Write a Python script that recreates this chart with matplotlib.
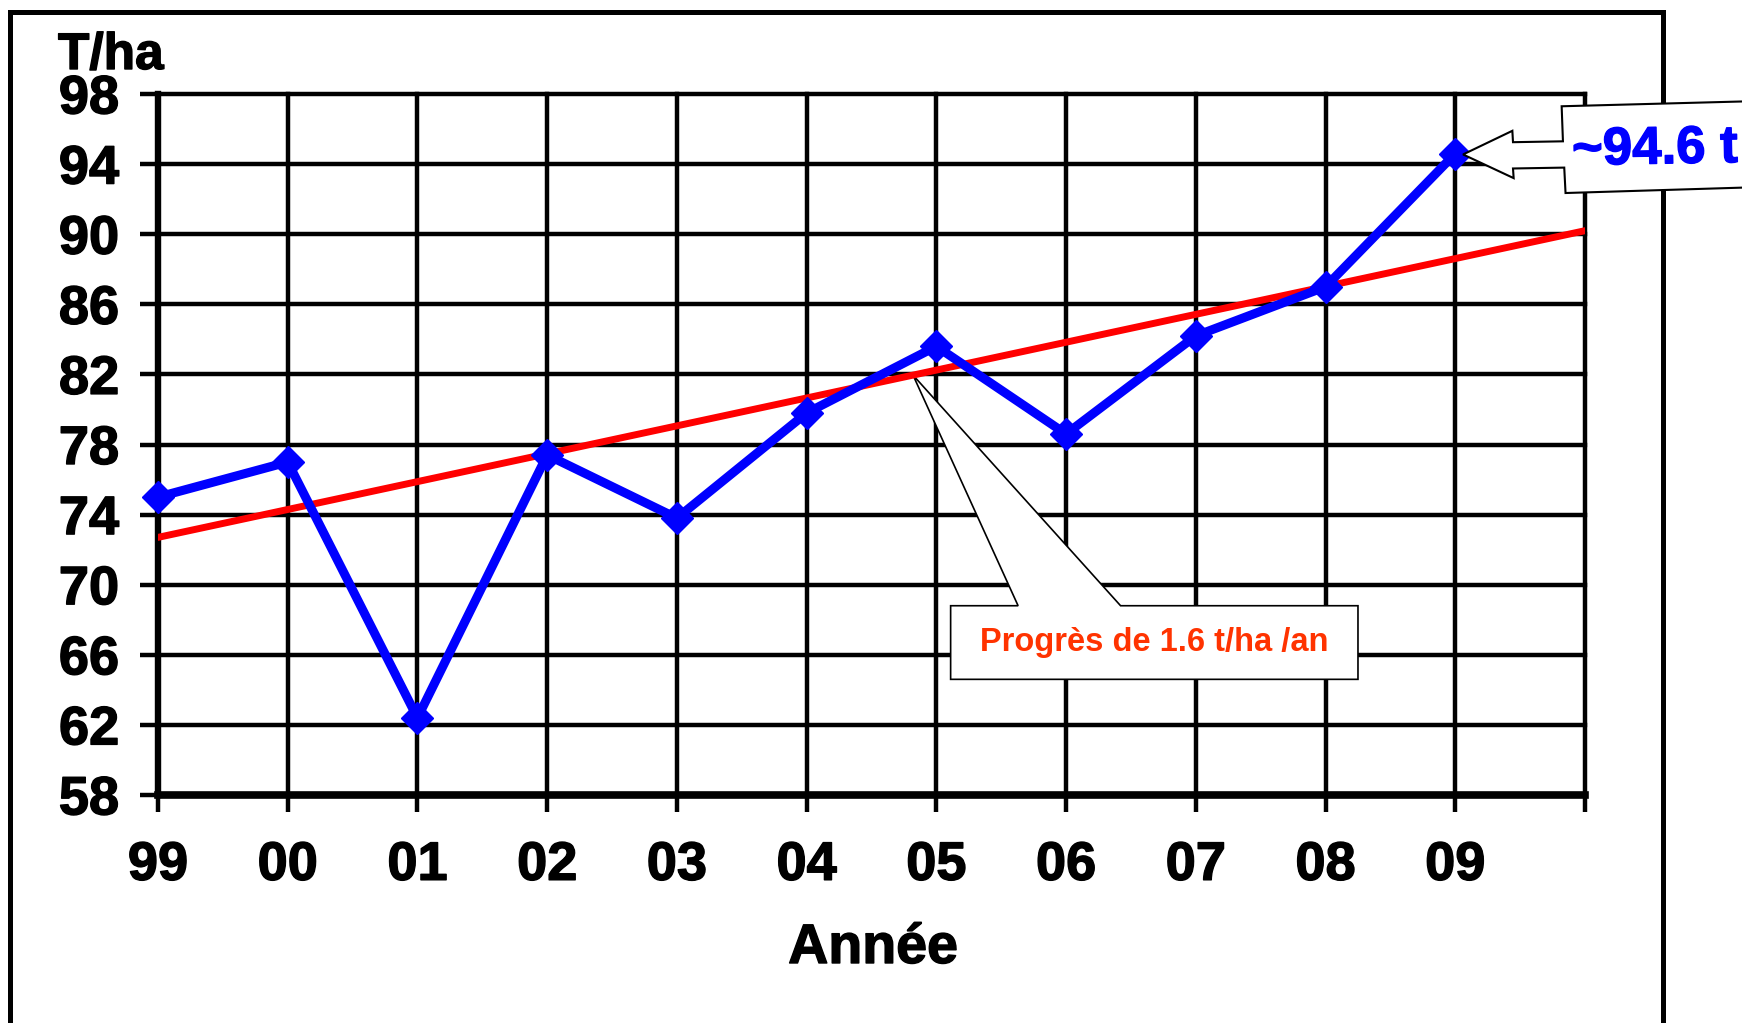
import matplotlib
matplotlib.use("Agg")
import matplotlib.pyplot as plt
import matplotlib.patheffects as pe
import numpy as np
from matplotlib.patches import Polygon, Rectangle

# data
years = ["99", "00", "01", "02", "03", "04", "05", "06", "07", "08", "09"]
yields = [75.0, 77.0, 62.4, 77.4, 73.8, 79.8, 83.6, 78.6, 84.2, 87.0, 94.6]
trend_x = [0, 11]
trend_y = [72.7, 90.2]
y_ticks = list(range(58, 99, 4))

plt.rcParams['font.family'] = ['Liberation Sans', 'DejaVu Sans']
plt.rcParams['font.weight'] = 'bold'

W, H = 1742, 1023
fig = plt.figure(figsize=(W / 100, H / 100), dpi=100)
ax = fig.add_axes([158 / W, 1 - 795 / H, (1585 - 158) / W, (795 - 94) / H])

x = np.arange(len(years))
ax.set_xlim(0, 11)
ax.set_ylim(58, 98)
ax.set_xticks(np.arange(12))
ax.set_xticklabels(years + [""])
ax.set_yticks(y_ticks)
ax.grid(True, color='black', linewidth=3.2)
ax.set_axisbelow(True)
for gl in ax.get_xgridlines() + ax.get_ygridlines():
    gl.set_clip_on(False)
ax.spines['top'].set_visible(False)
ax.spines['right'].set_visible(False)
ax.spines['left'].set_linewidth(4.6)
ax.spines['bottom'].set_linewidth(5.5)
ax.tick_params(axis='y', length=13, width=3.2, pad=15, labelsize=39)
ax.tick_params(axis='x', length=12, width=3.2, pad=21, labelsize=39)

heavy = [pe.withStroke(linewidth=1.0, foreground='black')]
for lab in ax.get_xticklabels() + ax.get_yticklabels():
    lab.set_path_effects(heavy)

# trend and data
ax.plot(trend_x, trend_y, color='#ff0000', linewidth=5, zorder=4,
        solid_capstyle='round')
ax.plot(x, yields, color='#0000ff', linewidth=6.5, marker='D', markersize=16,
        zorder=5, clip_on=False)

# callout for the trend slope
tip_x = 5.82
tip_y = np.interp(tip_x, trend_x, trend_y)
bx0, bx1, by0, by1 = 6.11, 9.25, 64.6, 68.8
wa, wb = 6.63, 7.42
callout = Polygon([(bx0, by1), (wa, by1), (tip_x, tip_y), (wb, by1), (bx1, by1),
                   (bx1, by0), (bx0, by0)], closed=True, facecolor='white',
                  edgecolor='black', linewidth=1.2, zorder=3)
ax.add_patch(callout)
ax.text((bx0 + bx1) / 2, (by0 + by1) / 2, "Progrès de 1.6 t/ha /an",
        color='#ff3300', fontsize=23.5, ha='center', va='center', zorder=6)

# arrow callout for the last value
px, py = x[-1] + 0.06, yields[-1] - 0.05
arrow = Polygon([(10.82, 97.3), (12.6, 97.65), (12.62, 92.75), (10.85, 92.35),
                 (10.84, 93.8), (10.445, 93.75), (10.45, 93.2), (px, py),
                 (10.44, 95.9), (10.445, 95.25), (10.83, 95.3)],
                closed=True, facecolor='white', edgecolor='black',
                linewidth=1.5, zorder=6, clip_on=False)
ax.add_patch(arrow)
ax.text(10.9, 94.75, "~94.6 t", color='#0000ff', fontsize=38, ha='left',
        va='center', rotation=1, rotation_mode='anchor', zorder=7,
        clip_on=False,
        path_effects=[pe.withStroke(linewidth=1.0, foreground='#0000ff')])

# labels
fig.text(58 / W, 1 - 69 / H, "T/ha", fontsize=37, ha='left', va='baseline',
         path_effects=heavy)
fig.text(873 / W, 1 - 963 / H, "Année", fontsize=40, ha='center', va='baseline',
         path_effects=heavy)

# outer frame
frame = Rectangle((10 / W, -0.1), (1663 - 10) / W, 1 - 12 / H + 0.1,
                  transform=fig.transFigure, fill=False, edgecolor='black',
                  linewidth=3.6, zorder=-1)
fig.add_artist(frame)

fig.savefig("out.png", dpi=100, facecolor='white')
